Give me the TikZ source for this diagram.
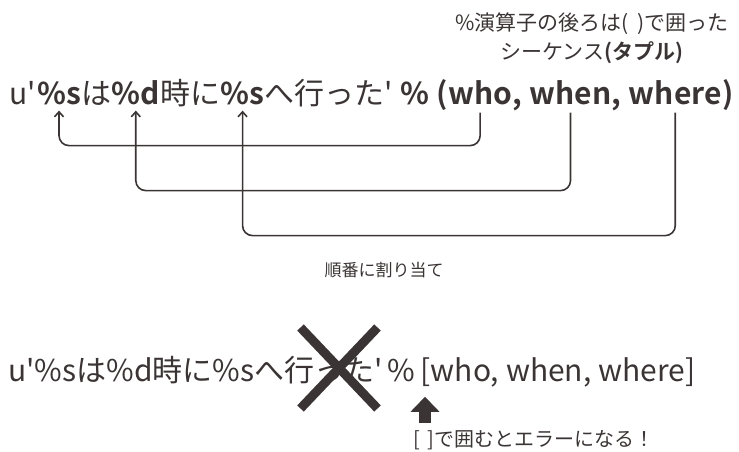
\documentclass[tikz,border=0pt]{standalone}
\usepackage{fontspec}
\setmainfont{Noto Sans CJK JP}[BoldFont={* Bold}]
\usetikzlibrary{positioning,arrows.meta,shapes.misc}
\definecolor{ink}{HTML}{3B3434}
\newcommand{\q}{\textquotesingle}
\newcommand{\gap}{\kern7pt}

\begin{document}
\begin{tikzpicture}[
        x=1pt, y=-1pt,
        >={Straight Barb[length=5pt,width=9pt]},
        every node/.style={inner sep=0pt, text=ink},
        big/.style={font=\fontsize{30}{33}\selectfont},
        bd/.style={font=\fontsize{30}{33}\selectfont\bfseries},
        small/.style={font=\fontsize{21}{29}\selectfont},
        link/.style={draw=ink, line width=1.6pt, rounded corners=10pt, ->},
        fat/.style={draw=ink, line width=12pt, -{Triangle[length=15pt,width=28pt]}}
    ]
        \useasboundingbox (0,0) rectangle (739,452);

        % annotation
        \node[small, align=center] (note) at (592,38) {\%演算子の後ろは(\kern9pt)で囲った\\シーケンス\textbf{(タプル)}};

        % first line, split so the arrows can reach each piece
        \node[big, anchor=base west] (u1) at (9,104) {u\q\kern1pt};
        \node[bd, base right=0pt of u1]  (s1) {\%s};
        \node[big, base right=0pt of s1] (ha) {は};
        \node[bd, base right=0pt of ha]  (d1) {\%d};
        \node[big, base right=0pt of d1] (ji) {時に};
        \node[bd, base right=0pt of ji]  (s2) {\%s};
        \node[big, base right=0pt of s2] (he) {へ行った\q\gap};
        \node[bd, base right=0pt of he]  (op) {\%\gap(};
        \node[bd, base right=0pt of op]  (who) {who};
        \node[bd, base right=0pt of who] (c1) {,\gap};
        \node[bd, base right=0pt of c1]  (when) {when};
        \node[bd, base right=0pt of when] (c2) {,\gap};
        \node[bd, base right=0pt of c2]  (where) {where};
        \node[bd, base right=0pt of where] (rp) {)};

        \draw[link] ([yshift=-8pt]who.south)   -- ++(0,33)  -| ([yshift=-6pt]s1.south);
        \draw[link] ([yshift=-8pt]when.south)  -- ++(0,78)  -| ([yshift=-6pt]d1.south);
        \draw[link] ([yshift=-8pt]where.south) -- ++(0,123) -| ([yshift=-6pt]s2.south);

        \node[font=\fontsize{17}{20}\selectfont] (order) at (384,270) {順番に割り当て};

        % second line
        \node[big, anchor=base west] (l2a) at (8,381) {u\q\%sは\%d時に\%sへ行った\q\kern5pt\%\kern5pt};
        \node[big, base right=0pt of l2a] (l2b) {[who, when, where]};
        \node[cross out, draw=ink, line width=9pt, minimum width=68pt, minimum height=72pt] (ng) at (339,368) {};

        \node[font=\fontsize{20}{24}\selectfont, anchor=base west] (err) at (413,446) {[\kern8pt]で囲むとエラーになる！};
        \draw[fat] ([xshift=12pt,yshift=7pt]err.north west) -- ([xshift=12pt,yshift=33pt]err.north west);
    \end{tikzpicture}
\end{document}
